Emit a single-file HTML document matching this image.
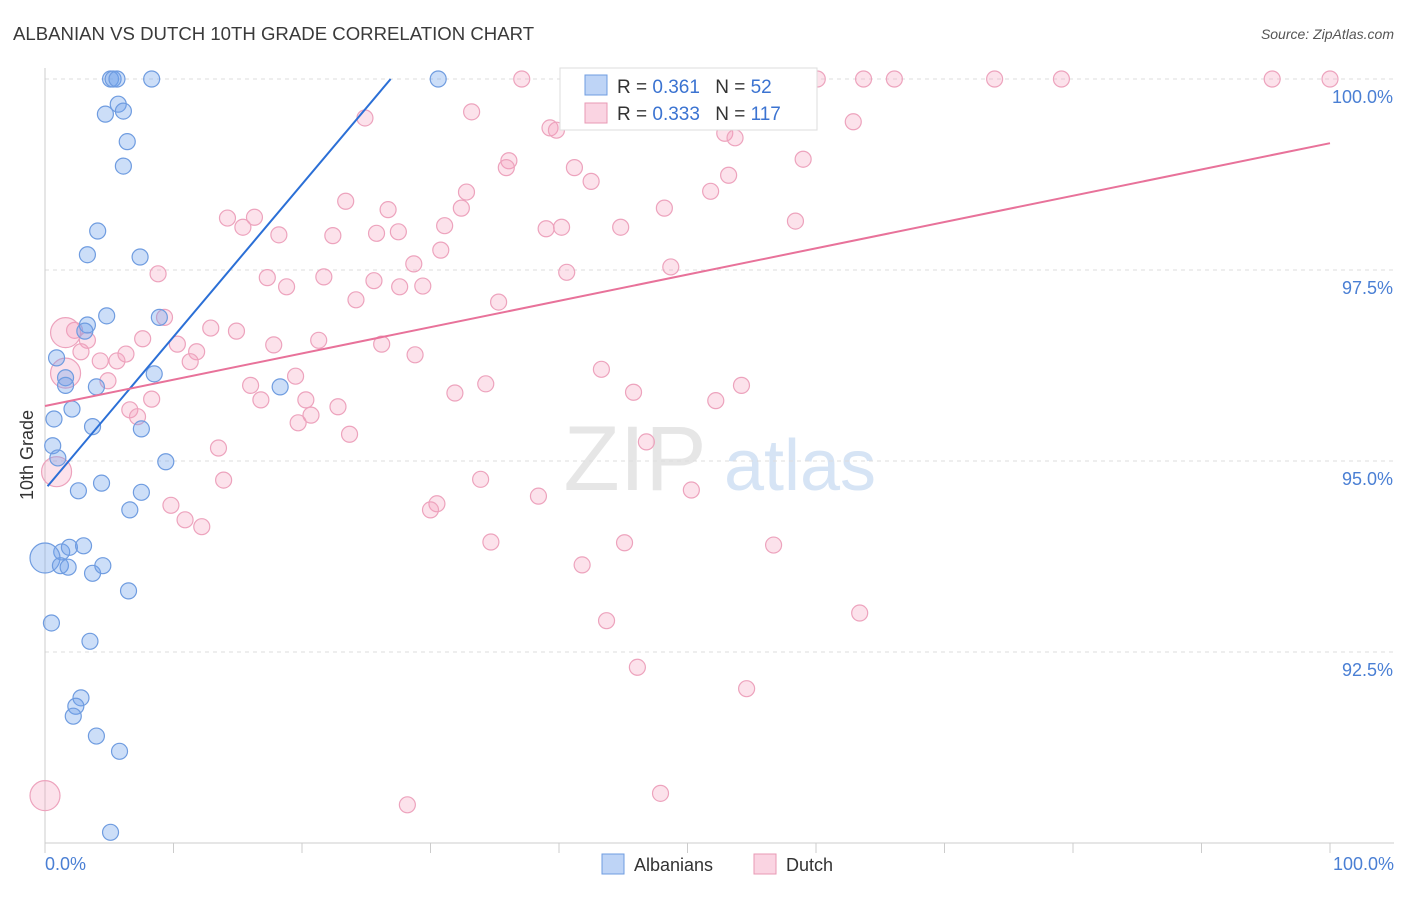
<!DOCTYPE html>
<html><head><meta charset="utf-8"><style>
body{margin:0;background:#fff;font-family:"Liberation Sans",sans-serif;}
svg text{font-family:"Liberation Sans",sans-serif;}
</style></head><body>
<svg id="chart" width="1406" height="892" xmlns="http://www.w3.org/2000/svg">
<text x="13" y="40" font-size="18.6" fill="#3a3a3a">ALBANIAN VS DUTCH 10TH GRADE CORRELATION CHART</text>
<text x="1394" y="39" font-size="14" fill="#555" font-style="italic" text-anchor="end">Source: ZipAtlas.com</text>
<g>
<text x="635" y="490" font-size="92" fill="#e6e6e6" font-family="Liberation Serif" text-anchor="middle">ZIP</text>
<text x="800" y="490" font-size="72" fill="#d6e4f5" text-anchor="middle">atlas</text>
</g>
<g id="grid"></g>
<g id="axes"></g>
<g id="pts"></g>
<g id="lines"></g>
<text transform="translate(33,455) rotate(-90)" font-size="18" fill="#333" text-anchor="middle">10th Grade</text>
<g>
<rect x="560" y="68" width="257" height="62" fill="#fff" stroke="#ddd"/>
<rect x="585" y="75" width="22" height="20" fill="rgba(110,160,235,0.45)" stroke="#6f9ce0"/>
<rect x="585" y="103" width="22" height="20" fill="rgba(245,160,190,0.45)" stroke="#e89ab4"/>
<text x="617" y="93" font-size="19" fill="#333">R = <tspan fill="#3b73d1">0.361</tspan>  <tspan dx="10">N = </tspan><tspan fill="#3b73d1">52</tspan></text>
<text x="617" y="120" font-size="19" fill="#333">R = <tspan fill="#3b73d1">0.333</tspan>  <tspan dx="10">N = </tspan><tspan fill="#3b73d1">117</tspan></text>
</g>
<g>
<rect x="602" y="854" width="22" height="20" fill="rgba(110,160,235,0.45)" stroke="#6f9ce0"/>
<text x="634" y="871" font-size="18" fill="#333">Albanians</text>
<rect x="754" y="854" width="22" height="20" fill="rgba(245,160,190,0.45)" stroke="#e89ab4"/>
<text x="786" y="871" font-size="18" fill="#333">Dutch</text>
</g>
</svg>
<script>
const yTicks=[100,97.5,95,92.5];
const yTickLabels=["100.0%","97.5%","95.0%","92.5%"];
const xTickLabels=["0.0%","100.0%"];
const blueX=[5.1,5.3,5.6,8.3,30.6,4.7,5.7,6.1,6.4,6.1,4.1,3.3,7.4,4.8,3.3,8.9,3.1,0.9,1.6,1.6,4.0,8.5,18.3,2.1,0.7,3.7,7.5,0.6,1.0,9.4,2.6,4.4,7.5,6.6,1.3,1.9,3.0,0,1.2,1.8,3.7,4.5,6.5,0.5,3.5,2.8,2.4,2.2,4.0,5.8,5.1];
const blueY=[100,100,100,100,100,99.54,99.67,99.58,99.18,98.86,98.01,97.70,97.67,96.90,96.78,96.88,96.70,96.35,96.09,95.99,95.97,96.14,95.97,95.68,95.55,95.45,95.42,95.20,95.04,94.99,94.61,94.71,94.59,94.36,93.81,93.87,93.89,93.73,93.63,93.61,93.53,93.63,93.30,92.88,92.64,91.90,91.79,91.66,91.40,91.20,90.14];
const blueBig=[37];
const pinkX=[37.1,50.5,60.1,63.7,66.1,73.9,79.1,95.5,100,33.2,24.9,39.3,39.8,62.9,52.9,53.7,36.1,35.9,41.2,42.5,59.0,53.2,51.8,32.8,23.4,26.7,32.4,48.2,14.2,16.3,15.4,31.1,39.0,40.2,44.8,58.4,18.2,22.4,25.8,27.5,30.8,28.7,8.8,17.3,21.7,40.6,48.7,18.8,25.6,27.6,29.4,24.2,35.3,9.3,12.9,14.9,2.3,1.6,3.3,7.6,21.3,10.3,17.8,26.2,11.8,2.8,11.3,4.3,5.6,6.3,28.8,1.6,43.3,4.9,19.5,16.0,34.3,45.8,31.9,54.2,8.3,16.8,52.2,20.3,6.6,7.2,20.7,22.8,19.7,23.7,13.5,46.8,0.9,13.9,33.9,50.3,38.4,9.8,10.9,12.2,30.5,30.0,34.7,45.1,56.7,41.8,63.4,43.7,46.1,54.6,0,28.2,47.9];
const pinkY=[100,100,100,100,100,100,100,100,100,99.57,99.49,99.36,99.33,99.44,99.29,99.23,98.93,98.84,98.84,98.66,98.95,98.74,98.53,98.52,98.40,98.29,98.31,98.31,98.18,98.19,98.06,98.08,98.04,98.06,98.06,98.14,97.96,97.95,97.98,98.00,97.76,97.58,97.45,97.40,97.41,97.47,97.54,97.28,97.36,97.28,97.29,97.11,97.08,96.88,96.74,96.70,96.71,96.68,96.58,96.60,96.58,96.53,96.52,96.53,96.43,96.43,96.30,96.31,96.31,96.40,96.39,96.15,96.20,96.05,96.11,95.99,96.01,95.90,95.89,95.99,95.81,95.80,95.79,95.80,95.67,95.58,95.60,95.71,95.50,95.35,95.17,95.25,94.86,94.75,94.76,94.62,94.54,94.42,94.23,94.14,94.44,94.36,93.94,93.93,93.90,93.64,93.01,92.91,92.30,92.02,90.62,90.50,90.65];
const pinkBig=[57,71,92,110];
const blueLine=[0.2,94.67,26.9,100];
const pinkLine=[0,95.72,100,99.16];
const NS="http://www.w3.org/2000/svg";
const sx=v=>45+v*12.85, sy=v=>79+(100-v)*76.4;
function mk(tag,attrs,parent){const e=document.createElementNS(NS,tag);for(const k in attrs)e.setAttribute(k,attrs[k]);document.getElementById(parent).appendChild(e);return e;}
yTicks.forEach((t,i)=>{
  const l=mk('line',{x1:45,x2:1394,y1:sy(t),y2:sy(t),stroke:'#ddd','stroke-dasharray':'4,4'},'grid');
  
  
  const tx=mk('text',{x:1393,y:sy(t)+24,'font-size':18,fill:'#4a7fd4','text-anchor':'end'},'grid');
  tx.textContent=yTickLabels[i];
  
  
});
const ax=mk('line',{x1:45,x2:45,y1:68,y2:843,stroke:'#ccc'},'axes');


const bx=mk('line',{x1:45,x2:1394,y1:843,y2:843,stroke:'#ccc'},'axes');


for(let i=0;i<=10;i++){
  const t=mk('line',{x1:sx(i*10),x2:sx(i*10),y1:843,y2:853,stroke:'#ccc'},'axes');
  
  
}
[[0,'start',45],[100,'end',1394]].forEach((d,i)=>{
  const t=mk('text',{x:d[2],y:870,'font-size':18,fill:'#4a7fd4','text-anchor':d[1]},'axes');
  t.textContent=xTickLabels[i];
  
  
});
function pts(X,Y,big,fill,stroke,name){
  X.forEach((x,i)=>{
    const c=mk('circle',{cx:sx(x),cy:sy(Y[i]),r:big.includes(i)?15:8,fill:fill,stroke:stroke,'stroke-width':1.2},'pts');
    
    
  });
}
pts(pinkX,pinkY,pinkBig,'rgba(245,160,190,0.3)','#eda3bd','dutch-point');
pts(blueX,blueY,blueBig,'rgba(110,160,235,0.35)','#6f9ce0','albanian-point');
const bl=mk('line',{x1:sx(blueLine[0]),y1:sy(blueLine[1]),x2:sx(blueLine[2]),y2:sy(blueLine[3]),stroke:'#2b6fd6','stroke-width':2},'lines');


const pl=mk('line',{x1:sx(pinkLine[0]),y1:sy(pinkLine[1]),x2:sx(pinkLine[2]),y2:sy(pinkLine[3]),stroke:'#e8729a','stroke-width':2},'lines');


</script>
</body></html>
